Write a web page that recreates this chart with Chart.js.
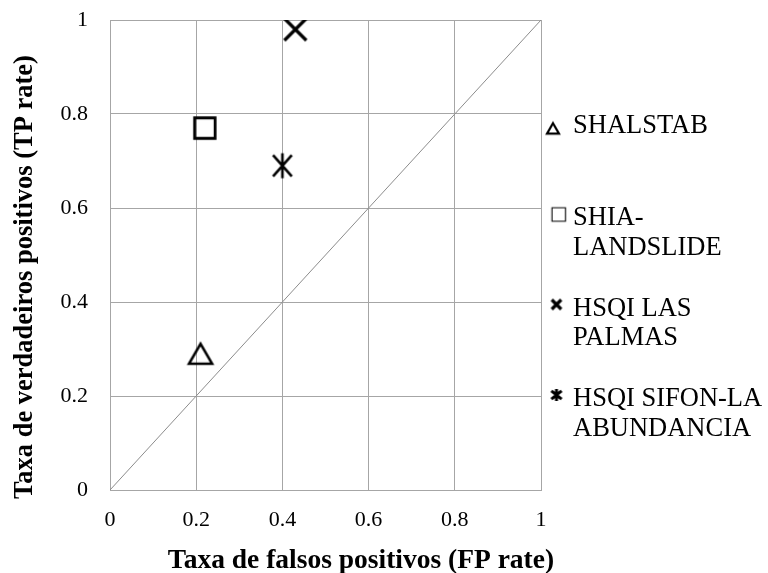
<!DOCTYPE html>
<html>
<head>
<meta charset="utf-8">
<title>Curva ROC</title>
<script src="https://cdn.jsdelivr.net/npm/chart.js@4.4.1/dist/chart.umd.min.js"></script>
<style>
  html, body { margin: 0; padding: 0; background: #ffffff; }
  #wrap { width: 768px; height: 573px; }
</style>
</head>
<body>
<div id="wrap"><canvas id="roc" width="768" height="573"></canvas></div>
<script>
// Models compared in ROC space
const modelNames = ['SHALSTAB', 'SHIA-LANDSLIDE', 'HSQI LAS PALMAS', 'HSQI SIFON-LA ABUNDANCIA'];
const legendLines = [['SHALSTAB'], ['SHIA-', 'LANDSLIDE'], ['HSQI LAS', 'PALMAS'], ['HSQI SIFON-LA', 'ABUNDANCIA']];
const fpRate = [0.21, 0.22, 0.43, 0.40];
const tpRate = [0.29, 0.77, 0.98, 0.69];
const markerKinds = ['triangle', 'square', 'cross', 'asterisk'];
// Reference line of a random classifier
const chanceX = [0, 1];
const chanceY = [0, 1];
const axisTicks = [0, 0.2, 0.4, 0.6, 0.8, 1];
const xTitle = 'Taxa de falsos positivos (FP rate)';
const yTitle = 'Taxa de verdadeiros positivos (TP rate)';

const SERIF = '"Liberation Serif", "Times New Roman", serif';
const GRID = '#a6a6a6';

// Draws one outlined marker glyph into a small canvas, usable as a pointStyle
function markerCanvas(kind, box, size, lw, spread) {
  const c = document.createElement('canvas');
  c.width = box; c.height = box;
  const g = c.getContext('2d');
  const m = box / 2;
  g.strokeStyle = '#000';
  g.lineWidth = lw;
  g.lineJoin = 'miter';
  g.lineCap = 'butt';
  g.beginPath();
  if (kind === 'triangle') {
    const h = size * 0.866;
    g.moveTo(m, m - h / 2);
    g.lineTo(m + size / 2, m + h / 2);
    g.lineTo(m - size / 2, m + h / 2);
    g.closePath();
  } else if (kind === 'square') {
    g.rect(m - size / 2, m - size / 2, size, size);
  } else if (kind === 'cross') {
    const d = size / 2;
    g.moveTo(m - d, m - d); g.lineTo(m + d, m + d);
    g.moveTo(m + d, m - d); g.lineTo(m - d, m + d);
  } else if (kind === 'asterisk') {
    const d = size / 2;
    const dx = d * spread[0], dy = d * spread[1];
    g.moveTo(m, m - d); g.lineTo(m, m + d);
    g.moveTo(m - dx, m - dy); g.lineTo(m + dx, m + dy);
    g.moveTo(m + dx, m - dy); g.lineTo(m - dx, m + dy);
  }
  g.stroke();
  return c;
}

const plotMarkers = {
  triangle: markerCanvas('triangle', 34, 23, 2.6),
  square: markerCanvas('square', 30, 20.5, 2.8),
  cross: markerCanvas('cross', 32, 22, 3.2),
  asterisk: markerCanvas('asterisk', 32, 25, 2.6, [0.75, 0.85])
};
const legendMarkers = {
  triangle: markerCanvas('triangle', 20, 12, 2.2),
  square: markerCanvas('square', 20, 13.5, 1.1),
  cross: markerCanvas('cross', 20, 9.5, 3.2),
  asterisk: markerCanvas('asterisk', 20, 12, 3, [0.85, 0.7])
};

const datasets = modelNames.map((name, i) => ({
  type: 'scatter',
  label: name,
  data: [{ x: fpRate[i], y: tpRate[i] }],
  pointStyle: plotMarkers[markerKinds[i]],
  pointRadius: 16,
  pointHoverRadius: 16,
  showLine: false
}));
datasets.push({
  type: 'line',
  label: 'chance',
  data: chanceX.map((x, i) => ({ x: x, y: chanceY[i] })),
  borderColor: '#8c8c8c',
  borderWidth: 1,
  pointRadius: 0,
  fill: false,
  order: 10
});

// Axis titles and the legend beside the plot
const decorations = {
  id: 'decorations',
  afterDraw(chart) {
    const ctx = chart.ctx;
    ctx.save();
    ctx.fillStyle = '#000';

    ctx.font = 'bold 27.5px ' + SERIF;
    ctx.textAlign = 'center';
    ctx.textBaseline = 'alphabetic';
    ctx.fillText(xTitle, 361, 568);

    ctx.font = 'bold 26.5px ' + SERIF;
    ctx.save();
    ctx.translate(32, 277);
    ctx.rotate(-Math.PI / 2);
    ctx.fillText(yTitle, 0, 0);
    ctx.restore();

    const baselines = [133, 225, 315.5, 406];
    const markerPos = [[553, 128.5], [558.7, 214.5], [556.5, 304.5], [556.5, 395]];
    ctx.font = '26.5px ' + SERIF;
    ctx.textAlign = 'left';
    legendLines.forEach((lines, i) => {
      const img = legendMarkers[markerKinds[i]];
      ctx.drawImage(img, markerPos[i][0] - img.width / 2, markerPos[i][1] - img.height / 2);
      lines.forEach((t, j) => ctx.fillText(t, 573, baselines[i] + j * 29.5));
    });
    ctx.restore();
  }
};

new Chart(document.getElementById('roc'), {
  type: 'scatter',
  data: { datasets: datasets },
  options: {
    responsive: false,
    animation: false,
    events: [],
    layout: { padding: { top: 20, right: 227, left: 0, bottom: 0 } },
    plugins: { legend: { display: false }, tooltip: { enabled: false } },
    scales: {
      x: {
        type: 'linear',
        min: 0, max: 1,
        afterBuildTicks: (s) => { s.ticks = axisTicks.map(v => ({ value: v })); },
        afterFit: (s) => { s.height = 83; s.paddingLeft = 0; s.paddingRight = 0; },
        grid: { color: GRID, lineWidth: 1, drawTicks: false },
        border: { color: GRID, width: 1 },
        ticks: {
          padding: 17,
          color: '#000',
          font: { family: SERIF, size: 22 },
          callback: (v) => String(v)
        }
      },
      y: {
        type: 'linear',
        min: 0, max: 1,
        afterBuildTicks: (s) => { s.ticks = axisTicks.map(v => ({ value: v })); },
        afterFit: (s) => { s.width = 110; s.paddingTop = 0; s.paddingBottom = 0; },
        grid: { color: GRID, lineWidth: 1, drawTicks: false },
        border: { color: GRID, width: 1 },
        ticks: {
          padding: 22,
          color: '#000',
          font: { family: SERIF, size: 22 },
          callback: (v) => String(v)
        }
      }
    }
  },
  plugins: [decorations]
});
</script>
</body>
</html>
